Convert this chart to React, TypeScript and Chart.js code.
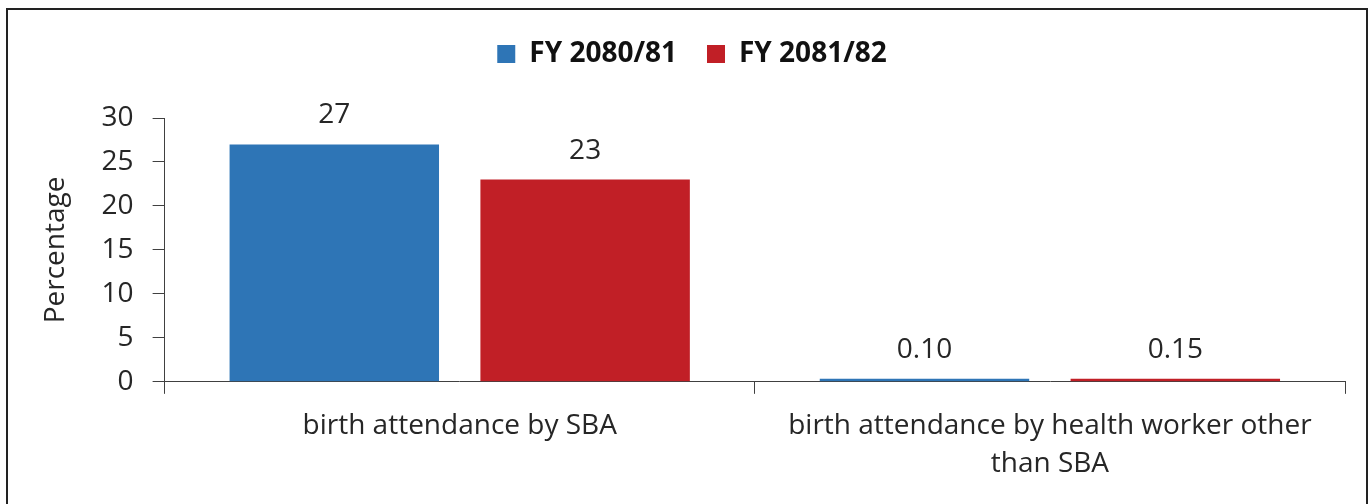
import React, { useEffect, useRef } from "react";
import { Chart, registerables } from "chart.js";

Chart.register(...registerables);

const categories: (string | string[])[] = [
  "birth attendance by SBA",
  ["birth attendance by health worker other", "than SBA"],
];
const seriesNames = ["FY 2080/81", "FY 2081/82"];
const values2080 = [27, 0.1];
const values2081 = [23, 0.15];
const valueLabels2080 = ["27", "0.10"];
const valueLabels2081 = ["23", "0.15"];
const yTicks = [0, 5, 10, 15, 20, 25, 30];

const BLUE = "#2E75B6";
const RED = "#C11F26";
const TEXT = "#262626";
const AXIS = "#404040";
const FONT = "'Open Sans', sans-serif";

export default function App() {
  const ref = useRef<HTMLCanvasElement | null>(null);

  useEffect(() => {
    if (!ref.current) return;
    const labelSets = [valueLabels2080, valueLabels2081];

    const legendMargin = {
      id: "legendMargin",
      beforeInit(chart: any) {
        const legend = chart.legend;
        if (!legend) return;
        const fit = legend.fit;
        legend.fit = function () {
          fit.bind(legend)();
          this.height += 40;
        };
      },
    };

    const valueLabels = {
      id: "valueLabels",
      afterDatasetsDraw(chart: any) {
        const ctx = chart.ctx;
        ctx.save();
        ctx.font = `28px ${FONT}`;
        ctx.fillStyle = TEXT;
        ctx.textAlign = "center";
        ctx.textBaseline = "alphabetic";
        chart.data.datasets.forEach((_: any, i: number) => {
          const meta = chart.getDatasetMeta(i);
          meta.data.forEach((bar: any, j: number) => {
            ctx.fillText(labelSets[i][j], bar.x, bar.y - 21);
          });
        });
        ctx.restore();
      },
    };

    const chart = new Chart(ref.current, {
      type: "bar",
      data: {
        labels: categories,
        datasets: [
          {
            label: seriesNames[0],
            data: values2080,
            backgroundColor: BLUE,
            borderWidth: 0,
          },
          {
            label: seriesNames[1],
            data: values2081,
            backgroundColor: RED,
            borderWidth: 0,
          },
        ],
      },
      options: {
        animation: false,
        responsive: false,
        maintainAspectRatio: false,
        layout: { padding: { top: 0, left: 31, right: 21, bottom: 0 } },
        datasets: {
          bar: { barPercentage: 0.835, categoryPercentage: 0.85, minBarLength: 3 },
        } as any,
        plugins: {
          tooltip: { enabled: false },
          legend: {
            display: true,
            position: "top",
            labels: {
              boxWidth: 18,
              boxHeight: 18,
              padding: 30,
              color: "#111",
              font: { family: FONT, size: 28, weight: "bold" },
            },
          },
        },
        scales: {
          x: {
            offset: true,
            grid: {
              offset: true,
              display: true,
              drawOnChartArea: false,
              drawTicks: true,
              tickLength: 12,
              color: AXIS,
              lineWidth: 1,
            },
            border: { display: true, color: AXIS, width: 1 },
            ticks: {
              color: TEXT,
              padding: 13,
              maxRotation: 0,
              autoSkip: false,
              font: { family: FONT, size: 28, lineHeight: 1.36 },
            },
          },
          y: {
            min: 0,
            max: 30,
            afterBuildTicks(scale: any) {
              scale.ticks = yTicks.map((v) => ({ value: v }));
            },
            grid: {
              display: true,
              drawOnChartArea: false,
              drawTicks: true,
              tickLength: 12,
              color: AXIS,
              lineWidth: 1,
            },
            border: { display: true, color: AXIS, width: 1 },
            ticks: {
              color: TEXT,
              padding: 19,
              font: { family: FONT, size: 28 },
            },
            title: {
              display: true,
              text: "Percentage",
              color: TEXT,
              padding: { top: 0, bottom: 10 },
              font: { family: FONT, size: 28, lineHeight: 1.2 },
            },
          },
        },
      },
      plugins: [legendMargin, valueLabels],
    });

    return () => chart.destroy();
  }, []);

  return (
    <div
      style={{
        position: "fixed",
        left: 6,
        top: 8,
        width: 1362,
        height: 520,
        boxSizing: "border-box",
        border: "2px solid #222",
        background: "#fff",
        overflow: "hidden",
      }}
    >
      <canvas ref={ref} width={1358} height={486} style={{ display: "block" }} />
    </div>
  );
}
